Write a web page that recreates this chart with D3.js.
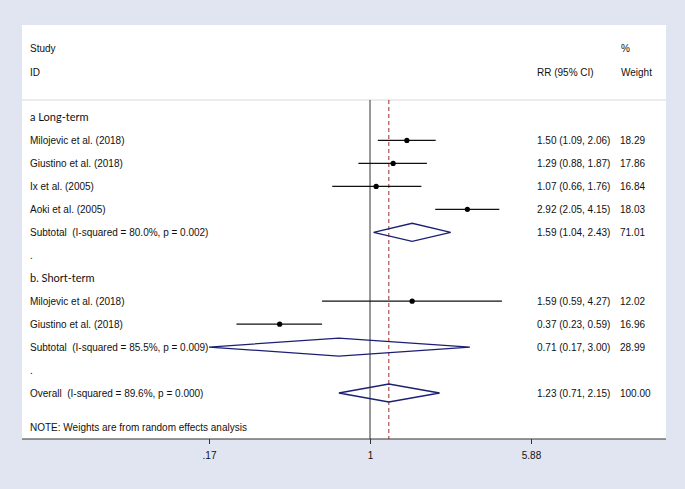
<!DOCTYPE html>
<html><head><meta charset="utf-8">
<script src="https://cdn.jsdelivr.net/npm/d3@7"></script>
<style>
html,body{margin:0;padding:0;background:#e0e5f1;}
svg{display:block;}
text{font-family:"Liberation Sans",Arial,sans-serif;font-size:10px;fill:#111;white-space:pre;}
</style></head><body>
<script>
const labels = ["a Long-term","Milojevic et al. (2018)","Giustino et al. (2018)","Ix et al. (2005)","Aoki et al. (2005)",
  "Subtotal  (I-squared = 80.0%, p = 0.002)",".","b. Short-term","Milojevic et al. (2018)","Giustino et al. (2018)",
  "Subtotal  (I-squared = 85.5%, p = 0.009)",".","Overall  (I-squared = 89.6%, p = 0.000)"];
const kinds = ["group","study","study","study","study","pooled","blank","group","study","study","pooled","blank","pooled"];
const rr = [null,1.50,1.29,1.07,2.92,1.59,null,null,1.59,0.37,0.71,null,1.23];
const lo = [null,1.09,0.88,0.66,2.05,1.04,null,null,0.59,0.23,0.17,null,0.71];
const hi = [null,2.06,1.87,1.76,4.15,2.43,null,null,4.27,0.59,3.00,null,2.15];
const weights = [null,18.29,17.86,16.84,18.03,71.01,null,null,12.02,16.96,28.99,null,100.00];
const tickVals = [0.17,1,5.88];
const tickLabels = [".17","1","5.88"];
const overallRR = 1.23;
const note = "NOTE: Weights are from random effects analysis";

const W=685,H=489;
const svg=d3.select("body").append("svg").attr("width",W).attr("height",H);
svg.append("rect").attr("width",W).attr("height",H).attr("fill","#e0e5f1");
const panel={x0:22,x1:666,y0:25,y1:439};
svg.append("rect").attr("x",panel.x0).attr("y",panel.y0).attr("width",panel.x1-panel.x0).attr("height",panel.y1-panel.y0).attr("fill","#fff");

const x=d3.scaleLog().domain([0.17,5.88]).range([209,531]);
const y=d3.scaleLinear().domain([0,labels.length-1]).range([117.5,393]);
const f2=d3.format(".2f");

// header
const tx=30;
svg.append("text").attr("x",tx).attr("y",48).attr("dy","0.35em").text("Study");
svg.append("text").attr("x",tx).attr("y",72).attr("dy","0.35em").text("ID");
svg.append("text").attr("x",537).attr("y",72).attr("dy","0.35em").text("RR (95% CI)");
svg.append("text").attr("x",621).attr("y",48).attr("dy","0.35em").text("%");
svg.append("text").attr("x",621).attr("y",72).attr("dy","0.35em").text("Weight");
svg.append("line").attr("x1",panel.x0).attr("x2",panel.x1).attr("y1",100).attr("y2",100).attr("stroke","#d8d8d8").attr("stroke-width",1);

// reference lines
svg.append("line").attr("x1",x(1)).attr("x2",x(1)).attr("y1",100).attr("y2",panel.y1).attr("stroke","#555").attr("stroke-width",1.2);
svg.append("line").attr("x1",x(overallRR)).attr("x2",x(overallRR)).attr("y1",100).attr("y2",panel.y1)
  .attr("stroke","#9b2b2b").attr("stroke-width",1).attr("stroke-dasharray","4,3");

const idx=d3.range(labels.length);
// labels
svg.selectAll("text.lab").data(idx).join("text").attr("class","lab")
  .attr("x",tx).attr("y",i=>y(i)).attr("dy","0.35em")
  .style("font-family",i=>kinds[i]==="group"?"Lato, 'Open Sans', sans-serif":null)
  .style("font-size",i=>kinds[i]==="group"?"11px":null)
  .text(i=>labels[i]);

// CI lines
const st=idx.filter(i=>kinds[i]==="study");
svg.selectAll("line.ci").data(st).join("line").attr("class","ci")
  .attr("x1",i=>x(lo[i])).attr("x2",i=>x(hi[i])).attr("y1",i=>y(i)).attr("y2",i=>y(i))
  .attr("stroke","#111").attr("stroke-width",1.2);
svg.selectAll("circle.pt").data(st).join("circle").attr("class","pt")
  .attr("cx",i=>x(rr[i])).attr("cy",i=>y(i)).attr("r",2.6).attr("fill","#000");

// diamonds
const pl=idx.filter(i=>kinds[i]==="pooled");
svg.selectAll("path.dia").data(pl).join("path").attr("class","dia")
  .attr("d",i=>{const c=y(i),h=9;return `M${x(lo[i])},${c}L${x(rr[i])},${c-h}L${x(hi[i])},${c}L${x(rr[i])},${c+h}Z`;})
  .attr("fill","none").attr("stroke","#1c1f73").attr("stroke-width",1.3);

// right columns
const num=idx.filter(i=>rr[i]!==null);
svg.selectAll("text.rr").data(num).join("text").attr("class","rr")
  .attr("x",537).attr("y",i=>y(i)).attr("dy","0.35em")
  .text(i=>`${f2(rr[i])} (${f2(lo[i])}, ${f2(hi[i])})`);
svg.selectAll("text.wt").data(num).join("text").attr("class","wt")
  .attr("x",620).attr("y",i=>y(i)).attr("dy","0.35em")
  .text(i=>f2(weights[i]));

svg.append("text").attr("x",tx).attr("y",427.5).attr("dy","0.35em").text(note);

// axis
svg.append("line").attr("x1",panel.x0).attr("x2",panel.x1).attr("y1",panel.y1).attr("y2",panel.y1).attr("stroke","#333").attr("stroke-width",1.2);
const ax=svg.append("g").attr("transform",`translate(0,${panel.y1})`)
  .call(d3.axisBottom(x).tickValues(tickVals).tickFormat((d,i)=>tickLabels[i]).tickSize(5).tickPadding(8));
ax.select(".domain").remove();
ax.selectAll("line").attr("stroke","#333");
ax.selectAll("text").style("font-family","'Liberation Sans',Arial,sans-serif").style("font-size","10px").attr("fill","#111");
</script></body></html>
